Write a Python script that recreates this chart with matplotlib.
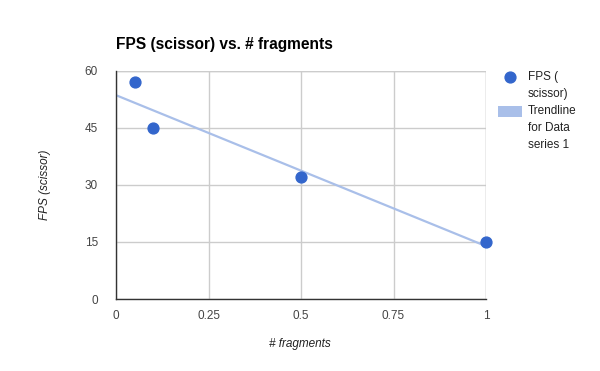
import numpy as np
import matplotlib
matplotlib.use("Agg")
import matplotlib.pyplot as plt
from matplotlib.lines import Line2D
from matplotlib.patches import Rectangle

x_vals = [0.05, 0.1, 0.5, 1.0]
fps_vals = [57, 45, 32, 15]
x_ticks = [0, 0.25, 0.5, 0.75, 1]
x_tick_labels = ["0", "0.25", "0.5", "0.75", "1"]
y_ticks = [0, 15, 30, 45, 60]
y_tick_labels = ["0", "15", "30", "45", "60"]

plt.rcParams['font.family'] = ['Liberation Sans', 'DejaVu Sans']

fig = plt.figure(figsize=(6, 3.71), dpi=100)
ax_l, ax_b, ax_w, ax_h = 116/600, 72/371, 370/600, 228/371
ax = fig.add_axes([ax_l, ax_b, ax_w, ax_h])

# trendline (linear regression)
slope, intercept = np.polyfit(x_vals, fps_vals, 1)
tx = np.array([0, 1])
ax.plot(tx, slope*tx + intercept, color='#a9bfe9', lw=1.6, zorder=2, solid_capstyle='butt')
ax.plot(x_vals, fps_vals, 'o', color='#3366cc', markersize=7.8, zorder=3, clip_on=False)

ax.set_xlim(0, 1)
ax.set_ylim(0, 60)
ax.set_xticks(x_ticks)
ax.set_xticklabels(x_tick_labels)
ax.set_yticks(y_ticks)
ax.set_yticklabels(y_tick_labels)
ax.grid(True, color='#cccccc', lw=1)
ax.set_axisbelow(True)
for s in ['top', 'right']:
    ax.spines[s].set_visible(False)
for s in ['left', 'bottom']:
    ax.spines[s].set_color('#333333')
    ax.spines[s].set_linewidth(1)
ax.tick_params(length=0, labelsize=8.5, labelcolor='#444444')
ax.tick_params(axis='y', pad=13)
ax.tick_params(axis='x', pad=8)
ax.axvline(1, color='#cccccc', lw=1, zorder=0)
ax.axhline(60, color='#cccccc', lw=1, zorder=0)

ax.set_xlabel('# fragments', fontsize=8.5, style='italic', color='#222222')
ax.set_ylabel('FPS (scissor)', fontsize=8.5, style='italic', color='#222222')
ax.xaxis.set_label_coords((300/600 - ax_l)/ax_w, ((371-344)/371 - ax_b)/ax_h)
ax.yaxis.set_label_coords((45/600 - ax_l)/ax_w, ((371-185)/371 - ax_b)/ax_h)
ax.xaxis.label.set_va('center')
ax.yaxis.label.set_va('center')

fig.text(116/600, 1 - 45/371, 'FPS (scissor) vs. # fragments', fontsize=11.2,
         fontweight='bold', color='#000000', va='center', ha='left')

# legend
fig.add_artist(Line2D([510/600], [1 - 77/371], marker='o', color='#3366cc',
                      markersize=7.8, transform=fig.transFigure, linestyle='None'))
fig.add_artist(Rectangle((498/600, 1 - 117/371), 24/600, 11/371, transform=fig.transFigure,
                         facecolor='#a9bfe9', edgecolor='none'))
lx = 528/600
for txt, yy in [('FPS (', 77), ('scissor)', 94), ('Trendline', 111), ('for Data', 128), ('series 1', 145)]:
    fig.text(lx, 1 - yy/371, txt, fontsize=8.5, color='#222222', va='center', ha='left')

fig.savefig('out.png', dpi=100)
